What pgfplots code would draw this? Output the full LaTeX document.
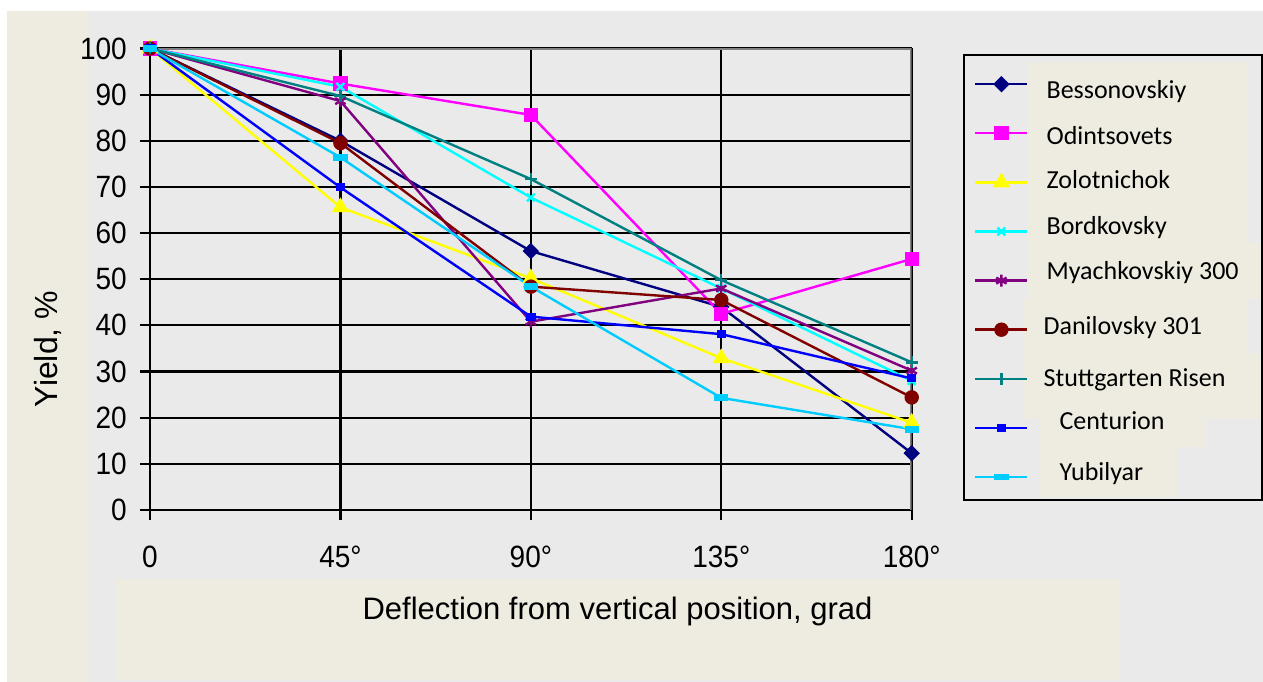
\documentclass[border=0pt]{standalone}
\usepackage{fontspec}
\setmainfont{Liberation Sans}
\newfontfamily\legendfont{Carlito}
\usepackage{pgfplots}
\pgfplotsset{compat=1.18}
\definecolor{bgtwo}{HTML}{EEECE1}
\definecolor{plotgray}{HTML}{EAEAEA}
\definecolor{cnavy}{HTML}{000080}
\definecolor{cmagenta}{HTML}{FF00FF}
\definecolor{cyellow}{HTML}{FFFF00}
\definecolor{ccyan}{HTML}{00FFFF}
\definecolor{cpurple}{HTML}{800080}
\definecolor{cdarkred}{HTML}{800000}
\definecolor{cteal}{HTML}{008080}
\definecolor{cblue}{HTML}{0000FF}
\definecolor{csky}{HTML}{00CCFF}
\definecolor{bordergray}{HTML}{808080}

\begin{document}
\begin{tikzpicture}
\useasboundingbox (0,0) rectangle (1263pt,682pt);
% background panels
\fill[white] (0,0) rectangle (1263pt,682pt);
\fill[plotgray] (88pt,0pt) rectangle (1263pt,671pt);
\fill[bgtwo] (7pt,0pt) rectangle (88pt,671pt);
\fill[bgtwo] (115.5pt,2pt) rectangle (1120pt,103pt);
% text boxes behind legend entries
\fill[bgtwo] (1027pt,620pt) rectangle (1247pt,439pt);
\fill[bgtwo] (1027pt,439pt) rectangle (1263pt,383pt);
\fill[bgtwo] (1023pt,383pt) rectangle (1247pt,329pt);
\fill[bgtwo] (1023pt,329pt) rectangle (1263pt,263pt);
\fill[bgtwo] (1039pt,263pt) rectangle (1206pt,235pt);
\fill[bgtwo] (1039pt,235pt) rectangle (1177pt,185pt);
\draw[black, line width=2pt] (964pt,627pt) rectangle (1262pt,182pt);

\begin{axis}[
  at={(150pt,172pt)}, anchor=south west,
  scale only axis, width=761.7pt, height=461.5pt,
  xmin=0, xmax=180, ymin=0, ymax=100,
  xtick={0,45,90,135,180},
  xticklabels={0,45°,90°,135°,180°},
  ytick={0,10,...,100},
  axis lines=left,
  axis line style={-, black, line width=2.2pt},
  grid=major,
  grid style={black, line width=2.2pt},
  tick align=outside,
  major tick length=10pt,
  tick style={black, line width=2.2pt},
  tick label style={font=\fontsize{28}{30}\selectfont, yscale=1.1},
  /pgf/number format/assume math mode=true,
  yticklabel style={inner sep=0pt, xshift=-13pt},
  xticklabel style={inner sep=0pt, yshift=-23pt},
  xlabel={Deflection from vertical position, grad},
  xlabel style={font=\fontsize{31}{34}\selectfont, inner sep=0pt,
    at={(axis description cs:0.6138,-0.2383)}, anchor=base},
  ylabel={Yield, \%},
  ylabel style={font=\fontsize{32}{35}\selectfont, inner sep=0pt,
    at={(axis description cs:-0.1208,0.3489)}, anchor=base},
  legend style={at={(axis description cs:1.0818,0.9491)}, anchor=north west,
    draw=none, fill=none, inner sep=0pt, row sep=25.1pt, column sep=18pt,
    font=\legendfont\fontsize{26}{28}\selectfont,
    nodes={anchor=base west, inner sep=0pt, text height=12pt, text depth=12pt}},
  legend image code/.code={\draw[mark repeat=2,mark phase=2]
    plot coordinates {(0pt,0pt) (26pt,0pt) (52pt,0pt)};},
]
\draw[bordergray, line width=2.6pt] (rel axis cs:0,1) -- (rel axis cs:1,1) -- (rel axis cs:1,0);

\addplot[cnavy, line width=2.4pt, mark=square*, mark size=4.6pt, mark options={rotate=45}]
  coordinates {(0,100) (45,80) (90,56.1) (135,44) (180,12.3)};
\addlegendentry{\raisebox{-14pt}{Bessonovskiy}}

\addplot[cmagenta, line width=2.4pt, mark=square*, mark size=6pt]
  coordinates {(0,100) (45,92.4) (90,85.6) (135,42.5) (180,54.4)};
\addlegendentry{\raisebox{-11pt}{Odintsovets}}

\addplot[cyellow, line width=2.4pt, mark=triangle*, mark size=7.5pt]
  coordinates {(0,100) (45,65.6) (90,50.2) (135,32.9) (180,18.9)};
\addlegendentry{\raisebox{-6pt}{Zolotnichok}}

\addplot[ccyan, line width=2.4pt, mark=x, mark size=5.5pt]
  coordinates {(0,100) (45,91.7) (90,67.7) (135,48) (180,28)};
\addlegendentry{\raisebox{-3pt}{Bordkovsky}}

\addplot[cpurple, line width=2.4pt, mark=asterisk, mark size=6pt]
  coordinates {(0,100) (45,88.6) (90,40.8) (135,48) (180,30.2)};
\addlegendentry{\raisebox{1pt}{Myachkovskiy 300}}

\addplot[cdarkred, line width=2.4pt, mark=*, mark size=6pt]
  coordinates {(0,100) (45,79.5) (90,48.4) (135,45.5) (180,24.4)};
\addlegendentry{\hspace{-3pt}\raisebox{-5pt}{Danilovsky 301}}

\addplot[cteal, line width=2.4pt, mark=+, mark size=6pt]
  coordinates {(0,100) (45,89.7) (90,71.7) (135,49.8) (180,32)};
\addlegendentry{\hspace{-3pt}\raisebox{-8pt}{Stuttgarten Risen}}

\addplot[cblue, line width=2.4pt, mark=square*, mark size=3.5pt, mark options={yscale=0.8}]
  coordinates {(0,100) (45,69.9) (90,41.9) (135,38.1) (180,28.5)};
\addlegendentry{\hspace{13pt}\raisebox{-2pt}{Centurion}}

\addplot[csky, line width=2.4pt, mark=square*, mark size=5pt, mark options={xscale=1.2, yscale=0.45}]
  coordinates {(0,100) (45,76.4) (90,48.4) (135,24.3) (180,17.5)};
\addlegendentry{\hspace{13pt}\raisebox{-4pt}{Yubilyar}}
\end{axis}
\end{tikzpicture}
\end{document}
